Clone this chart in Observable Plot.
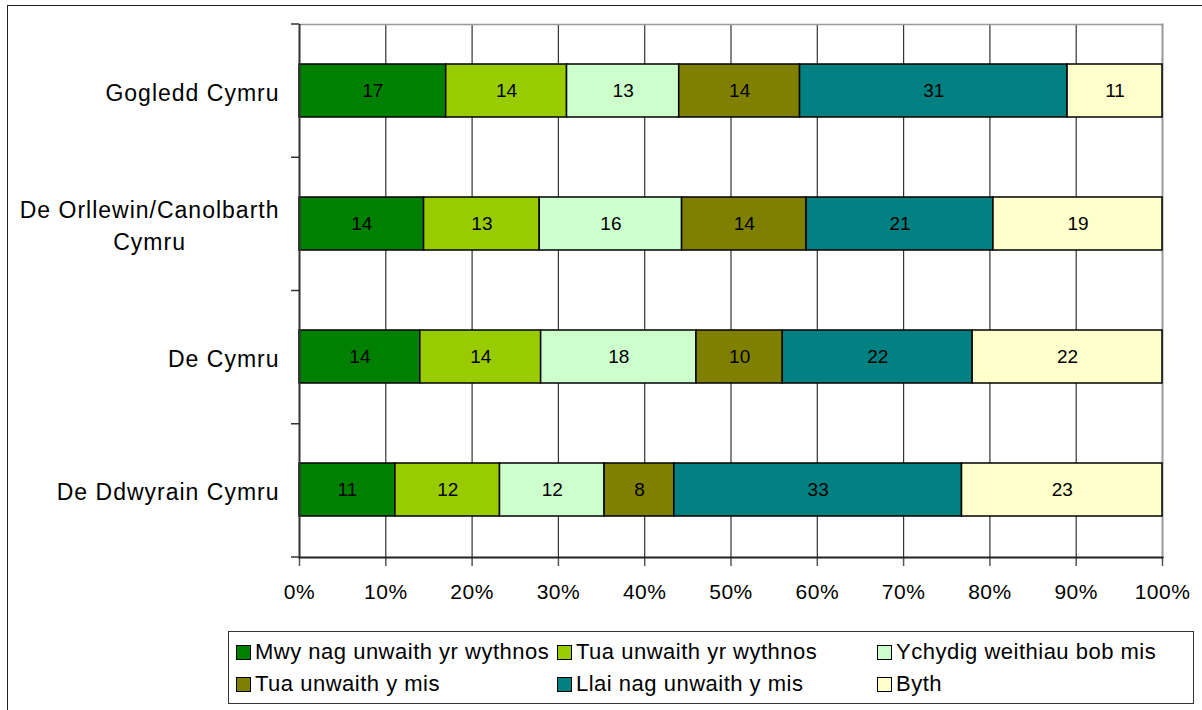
<!DOCTYPE html>
<html>
<head>
<meta charset="utf-8">
<script src="https://cdn.jsdelivr.net/npm/d3@7"></script>
<script src="https://cdn.jsdelivr.net/npm/@observablehq/plot@0.6"></script>
<style>
  html, body { margin: 0; padding: 0; background: #fff; }
  body { font-family: "Liberation Sans", Arial, sans-serif; }
  #wrap { position: relative; width: 1202px; height: 710px; overflow: hidden; }
  #outer { position: absolute; left: 7px; top: 5px; width: 1210px; height: 720px; border: 1.5px solid #222; box-sizing: border-box; }
  #chart { position: absolute; left: 0; top: 0; }
  #chart svg { font-family: "Liberation Sans", Arial, sans-serif; }
  #legend { position: absolute; left: 228px; top: 631px; width: 966px; height: 73px; border: 1px solid #333; box-sizing: border-box; background: #fff; }
  .item { position: absolute; display: flex; align-items: center; height: 24px; font-size: 22px; letter-spacing: 0.5px; color: #000; white-space: nowrap; }
  .sw { width: 13px; height: 13px; border: 1.5px solid #000; margin-right: 4px; flex: none; }
</style>
</head>
<body>
<div id="wrap">
  <div id="outer"></div>
  <div id="chart"></div>
  <div id="legend"></div>
</div>
<script>
// ---- data ----
const regions = ["Gogledd Cymru", "De Orllewin/Canolbarth Cymru", "De Cymru", "De Ddwyrain Cymru"];
const regionLabels = ["Gogledd Cymru", "De Orllewin/Canolbarth\nCymru", "De Cymru", "De Ddwyrain Cymru"];
const series = ["Mwy nag unwaith yr wythnos", "Tua unwaith yr wythnos", "Ychydig weithiau bob mis", "Tua unwaith y mis", "Llai nag unwaith y mis", "Byth"];
const colors = ["#008000", "#99CC00", "#CCFFCC", "#808000", "#008080", "#FFFFCC"];
const gogleddCymru = [17, 14, 13, 14, 31, 11];
const deOrllewinCanolbarth = [14, 13, 16, 14, 21, 19];
const deCymru = [14, 14, 18, 10, 22, 22];
const deDdwyrainCymru = [11, 12, 12, 8, 33, 23];
const xTickLabels = [0, 10, 20, 30, 40, 50, 60, 70, 80, 90, 100];

const valuesByRegion = [gogleddCymru, deOrllewinCanolbarth, deCymru, deDdwyrainCymru];
const rows = [];
regions.forEach((r, i) => series.forEach((s, j) => rows.push({region: r, series: s, value: valuesByRegion[i][j]})));
const xTicks = xTickLabels.map(v => v / 100);

// boundary ticks on the category axis (between bands)
function categoryTicks(index, scales, values, dimensions) {
  const g = d3.create("svg:g").attr("aria-label", "category-ticks");
  const top = dimensions.marginTop;
  const bottom = dimensions.height - dimensions.marginBottom;
  const n = regions.length;
  const x0 = dimensions.marginLeft;
  for (let i = 0; i <= n; i++) {
    const y = top + (bottom - top) * i / n;
    g.append("line").attr("x1", x0 - 8).attr("x2", x0).attr("y1", y).attr("y2", y)
      .attr("stroke", "#333").attr("stroke-width", 1.5);
  }
  return g.node();
}

const chart = Plot.plot({
  width: 1202,
  height: 620,
  marginLeft: 299,
  marginRight: 40,
  marginTop: 24,
  marginBottom: 63,
  style: {fontFamily: "'Liberation Sans', Arial, sans-serif", color: "#000", background: "transparent"},
  x: {domain: [0, 1], axis: null, label: null},
  y: {domain: regions, paddingInner: 0.6, paddingOuter: 0.3, axis: null, label: null},
  color: {domain: series, range: colors},
  marks: [
    Plot.gridX(xTicks.slice(1, -1), {stroke: "#333", strokeOpacity: 1, strokeWidth: 1.2}),
    Plot.frame({anchor: "top", stroke: "#999", strokeWidth: 1.5}),
    Plot.frame({anchor: "right", stroke: "#999", strokeWidth: 2}),
    Plot.barX(rows, Plot.stackX({x: "value", y: "region", fill: "series", z: "series", offset: "normalize", stroke: "#000", strokeWidth: 1.5})),
    Plot.text(rows, Plot.stackX({x: "value", y: "region", z: "series", offset: "normalize", text: d => String(d.value), fill: "#000", fontSize: 19})),
    Plot.axisX({anchor: "bottom", ticks: xTicks, tickFormat: d => Math.round(d * 100) + "%", label: null, tickSize: 9, tickPadding: 18, fontSize: 21, stroke: "#555", strokeWidth: 1.5}),
    Plot.ruleX([0], {stroke: "#333", strokeWidth: 2}),
    Plot.frame({anchor: "bottom", stroke: "#222", strokeWidth: 2}),
    categoryTicks,
    Plot.text(regions, {y: d => d, text: (d, i) => regionLabels[i], frameAnchor: "left", textAnchor: "end", dx: -20, lineAnchor: "middle", lineHeight: 1.4, fontSize: 23, fill: "#000"})
  ]
});
document.getElementById("chart").appendChild(chart);

// letter spacing for axis texts; center multi-line category labels within a right-aligned block
chart.querySelectorAll('g[font-size="21"] text').forEach(t => t.style.letterSpacing = "0.5px");
chart.querySelectorAll('g[font-size="23"] text').forEach(t => {
  t.style.letterSpacing = "1px";
  if (t.querySelectorAll("tspan").length > 1) {
    const w = t.getBBox().width;
    t.setAttribute("text-anchor", "middle");
    t.setAttribute("transform", (t.getAttribute("transform") || "") + ` translate(${-w / 2},0)`);
  }
});

// legend
const legend = document.getElementById("legend");
const colX = [7, 328, 648];
const rowY = [8, 40];
series.forEach((s, i) => {
  const it = document.createElement("div");
  it.className = "item";
  it.style.left = colX[i % 3] + "px";
  it.style.top = rowY[Math.floor(i / 3)] + "px";
  const sw = document.createElement("span");
  sw.className = "sw";
  sw.style.background = colors[i];
  it.appendChild(sw);
  it.appendChild(document.createTextNode(s));
  legend.appendChild(it);
});
</script>
</body>
</html>
